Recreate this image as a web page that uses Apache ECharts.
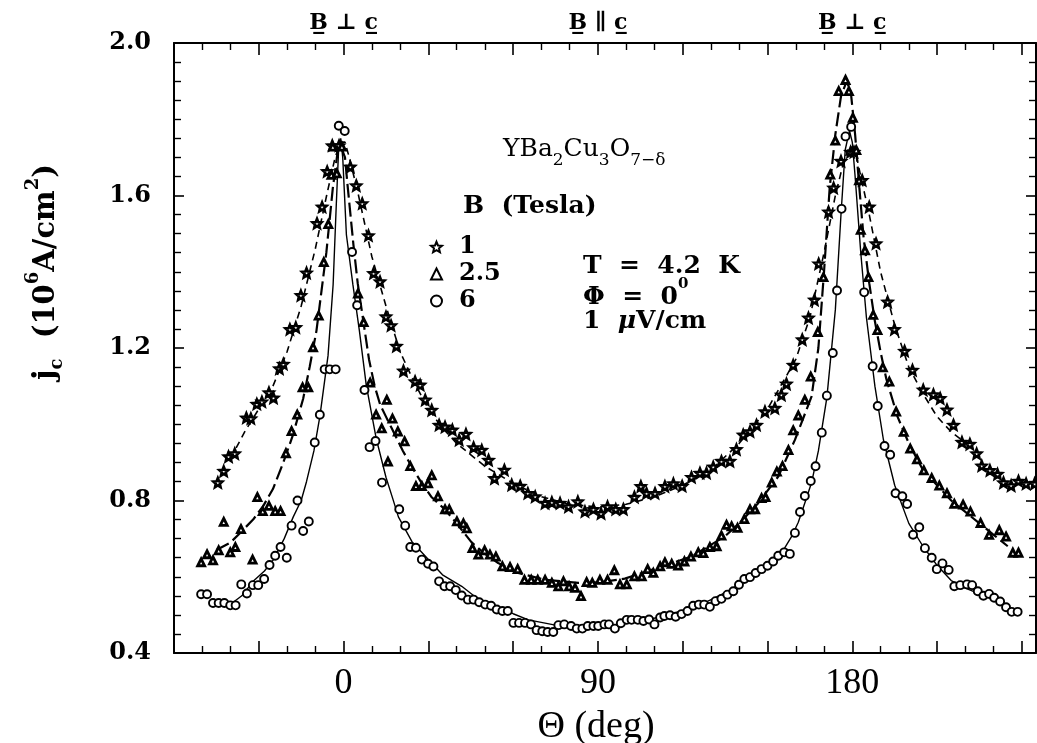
<!DOCTYPE html>
<html><head><meta charset="utf-8">
<script src="https://cdn.jsdelivr.net/npm/echarts@6/dist/echarts.min.js"></script>
<style>html,body{margin:0;padding:0;background:#fff}#c{width:1037px;height:743px}</style>
</head><body><div id="c"></div>
<script>
// ---- tick labels ----
const xTickLabels = [0, 90, 180];
const topAngles = [0, 90, 180];
const topTexts = ['B\u0332 \u22A5 c\u0332', 'B\u0332 \u2225 c\u0332', 'B\u0332 \u22A5 c\u0332'];
const yTickLabels = [0.4, 0.8, 1.2, 1.6, 2.0];
const fieldNames = ['1', '2.5', '6'];

// ---- measured points [theta (deg), jc] ----
const starPts = [[-44.5,0.847],[-42.4,0.877],[-40.7,0.915],[-38.5,0.923],[-34.4,1.017],[-32.8,1.015],[-30.7,1.053],[-28.9,1.059],[-26.4,1.083],[-24.8,1.069],[-22.7,1.146],[-21.3,1.158],[-19.0,1.249],[-16.9,1.254],[-15.1,1.338],[-13.1,1.397],[-9.4,1.527],[-7.6,1.570],[-5.8,1.663],[-4.0,1.731],[-1.6,1.731],[2.4,1.675],[4.5,1.626],[6.6,1.579],[8.8,1.495],[10.6,1.396],[12.9,1.374],[15.0,1.282],[16.8,1.259],[18.7,1.205],[21.2,1.140],[25.3,1.112],[27.1,1.103],[28.9,1.064],[31.2,1.037],[33.8,0.998],[35.9,0.993],[38.5,0.985],[40.9,0.959],[43.3,0.974],[46.0,0.939],[48.9,0.932],[51.3,0.906],[53.4,0.858],[56.9,0.880],[59.5,0.841],[62.5,0.838],[65.2,0.819],[67.8,0.810],[71.3,0.793],[73.7,0.795],[76.6,0.793],[79.6,0.784],[82.9,0.797],[85.4,0.771],[88.4,0.777],[91.1,0.766],[93.4,0.784],[96.3,0.777],[99.0,0.777],[102.9,0.809],[105.2,0.837],[107.2,0.819],[110.2,0.819],[113.7,0.837],[116.7,0.844],[119.8,0.838],[123.1,0.861],[126.1,0.872],[128.4,0.872],[130.8,0.888],[133.7,0.903],[136.7,0.903],[139.0,0.934],[141.4,0.972],[143.8,0.981],[146.1,0.998],[149.1,1.033],[152.6,1.042],[154.9,1.077],[156.7,1.106],[159.1,1.155],[162.3,1.222],[164.5,1.279],[166.6,1.326],[168.1,1.421],[171.6,1.557],[173.4,1.620],[176.0,1.690],[179.4,1.714],[180.6,1.714],[183.5,1.640],[186.0,1.570],[188.4,1.474],[192.5,1.321],[194.9,1.249],[198.5,1.192],[201.3,1.142],[205.1,1.090],[208.7,1.078],[211.1,1.068],[213.5,1.038],[215.8,0.998],[218.8,0.953],[221.6,0.948],[224.0,0.923],[225.8,0.891],[228.7,0.879],[231.4,0.869],[233.5,0.847],[236.2,0.839],[238.8,0.851],[241.5,0.844],[244.5,0.844]];

const triPts = [[-50.4,0.638],[-48.3,0.659],[-46.2,0.643],[-44.2,0.669],[-42.4,0.744],[-40.1,0.664],[-38.3,0.678],[-36.3,0.725],[-32.2,0.645],[-30.5,0.809],[-28.6,0.772],[-26.4,0.786],[-24.2,0.772],[-22.3,0.772],[-20.4,0.924],[-18.4,0.982],[-16.4,1.025],[-14.5,1.097],[-12.5,1.097],[-10.8,1.202],[-8.8,1.285],[-7.0,1.425],[-5.4,1.525],[-4.3,1.654],[-3.8,1.728],[-2.4,1.658],[-0.6,1.728],[5.1,1.343],[7.1,1.268],[9.4,1.109],[11.5,1.025],[13.5,0.989],[15.3,1.064],[15.7,0.902],[17.3,1.015],[19.2,0.981],[21.6,0.955],[23.6,0.890],[25.6,0.838],[27.7,0.838],[29.9,0.845],[31.2,0.866],[33.4,0.811],[35.9,0.777],[37.4,0.777],[40.1,0.745],[42.4,0.740],[43.6,0.727],[45.6,0.675],[47.7,0.658],[49.9,0.669],[51.8,0.658],[53.9,0.653],[56.2,0.627],[58.9,0.625],[61.6,0.620],[64.0,0.592],[66.4,0.592],[68.7,0.592],[71.3,0.592],[73.7,0.584],[76.0,0.575],[77.8,0.588],[79.8,0.575],[81.9,0.571],[84.0,0.549],[86.0,0.586],[88.0,0.584],[90.7,0.592],[93.4,0.592],[95.8,0.617],[97.8,0.580],[100.2,0.580],[102.9,0.601],[105.5,0.601],[107.6,0.620],[109.6,0.610],[112.0,0.627],[113.7,0.638],[116.1,0.634],[118.4,0.629],[120.6,0.640],[122.9,0.653],[125.5,0.664],[127.3,0.662],[129.6,0.678],[132.0,0.680],[133.7,0.708],[135.5,0.736],[137.3,0.732],[139.4,0.728],[141.8,0.751],[143.8,0.777],[145.6,0.777],[147.9,0.806],[149.3,0.809],[151.5,0.847],[153.3,0.876],[155.3,0.890],[157.4,0.932],[159.1,0.984],[160.9,1.023],[163.2,1.064],[165.3,1.125],[167.8,1.242],[169.8,1.386],[172.2,1.655],[174.0,1.744],[175.2,1.874],[177.6,1.903],[178.8,1.874],[180.2,1.804],[181.4,1.719],[182.4,1.640],[183.0,1.510],[184.5,1.456],[185.7,1.386],[187.4,1.287],[188.9,1.247],[190.8,1.149],[193.1,1.112],[195.5,1.033],[198.2,0.980],[200.5,0.936],[202.9,0.908],[205.3,0.879],[208.1,0.859],[210.8,0.839],[213.5,0.819],[216.1,0.791],[219.2,0.789],[221.8,0.771],[225.4,0.741],[228.4,0.710],[232.0,0.722],[234.4,0.705],[236.8,0.663],[238.8,0.663]];

const circPts = [[-50.4,0.554],[-48.3,0.554],[-46.2,0.531],[-44.2,0.531],[-42.2,0.531],[-40.1,0.525],[-38.2,0.525],[-36.2,0.580],[-34.2,0.556],[-32.1,0.578],[-30.2,0.578],[-28.1,0.594],[-26.2,0.631],[-24.2,0.655],[-22.3,0.678],[-20.1,0.650],[-18.4,0.734],[-16.3,0.800],[-14.3,0.720],[-12.3,0.745],[-10.2,0.952],[-8.4,1.025],[-6.7,1.144],[-4.9,1.144],[-2.8,1.144],[-1.7,1.783],[0.4,1.769],[3.0,1.452],[4.8,1.312],[7.4,1.090],[9.2,0.940],[11.3,0.956],[13.6,0.847],[19.7,0.777],[21.8,0.734],[23.6,0.678],[25.6,0.676],[27.7,0.645],[29.9,0.634],[31.8,0.627],[33.8,0.588],[35.7,0.575],[37.7,0.575],[39.7,0.565],[41.8,0.551],[44.0,0.540],[46.0,0.540],[48.0,0.533],[50.1,0.527],[52.2,0.524],[54.2,0.514],[56.2,0.510],[58.1,0.510],[60.1,0.479],[62.1,0.479],[64.2,0.479],[66.3,0.475],[68.3,0.460],[70.3,0.457],[72.2,0.455],[74.2,0.455],[76.0,0.473],[78.1,0.475],[80.5,0.471],[82.5,0.464],[84.5,0.464],[86.4,0.471],[88.4,0.471],[90.1,0.471],[92.3,0.475],[93.9,0.475],[96.0,0.464],[98.1,0.478],[100.2,0.487],[101.9,0.487],[104.1,0.487],[106.1,0.484],[108.1,0.488],[110.0,0.475],[112.0,0.493],[113.5,0.497],[115.5,0.499],[117.5,0.495],[119.6,0.502],[121.7,0.510],[123.7,0.524],[125.7,0.527],[127.6,0.527],[129.6,0.521],[131.6,0.536],[133.7,0.542],[135.8,0.553],[137.9,0.562],[139.9,0.579],[141.8,0.594],[143.8,0.599],[145.8,0.610],[147.9,0.620],[150.0,0.629],[152.0,0.640],[153.8,0.655],[155.9,0.664],[157.9,0.660],[159.7,0.715],[161.5,0.770],[163.2,0.812],[165.3,0.851],[167.0,0.890],[169.2,0.978],[171.0,1.075],[173.1,1.187],[174.6,1.351],[176.2,1.565],[177.6,1.755],[179.6,1.780],[184.2,1.346],[187.2,1.152],[189.0,1.048],[191.4,0.943],[193.4,0.920],[195.3,0.819],[197.7,0.811],[199.4,0.791],[201.5,0.710],[203.7,0.730],[205.7,0.675],[208.1,0.650],[209.9,0.620],[211.9,0.635],[214.1,0.618],[216.1,0.575],[218.2,0.578],[220.6,0.580],[222.4,0.578],[224.4,0.562],[226.4,0.550],[228.4,0.555],[230.2,0.545],[232.3,0.535],[234.4,0.520],[236.4,0.508],[238.5,0.508]];

// ---- fitted curves ----
const starCurve = [[-40,0.91],[-35,0.98],[-30,1.04],[-25,1.10],[-20,1.19],[-15,1.31],[-10,1.46],[-6,1.60],[-3,1.70],[-1,1.74],[0.5,1.74],[2,1.70],[5,1.61],[10,1.44],[15,1.31],[20,1.19],[25,1.11],[30,1.04],[35,0.99],[40,0.95],[50,0.89],[60,0.845],[70,0.81],[80,0.79],[90,0.783],[100,0.79],[110,0.81],[120,0.84],[130,0.88],[140,0.95],[150,1.04],[160,1.17],[165,1.28],[170,1.45],[174,1.60],[177,1.69],[179,1.73],[181,1.72],[183,1.65],[186,1.55],[190,1.40],[195,1.26],[200,1.15],[205,1.08],[210,1.02],[215,0.98],[222,0.94]];

const triCurve = [[-45,0.67],[-40,0.69],[-36.6,0.715],[-32,0.75],[-28.4,0.786],[-25,0.83],[-21.3,0.90],[-18,0.97],[-14.3,1.067],[-12,1.15],[-9.6,1.245],[-6.1,1.45],[-3.8,1.62],[-2,1.72],[-1,1.73],[0.5,1.70],[1.5,1.62],[3.5,1.47],[5,1.37],[7,1.27],[9,1.17],[11,1.10],[13,1.05],[15,1.02],[17,0.99],[21,0.93],[24,0.89],[27.7,0.845],[31,0.81],[35.9,0.776],[40,0.74],[45.3,0.69],[50,0.66],[54.7,0.636],[61.8,0.61],[71.3,0.592],[83,0.584],[90,0.585],[99.5,0.595],[111.4,0.624],[123.1,0.653],[134.9,0.706],[140,0.74],[146.7,0.793],[153.8,0.863],[159.7,0.959],[165.6,1.073],[168,1.20],[170,1.40],[172,1.62],[174,1.76],[176,1.86],[178,1.90],[179.5,1.87],[181,1.76],[182.5,1.62],[184,1.49],[186,1.37],[188,1.27],[190,1.19],[192,1.12],[196,1.02],[200,0.95],[205,0.88],[210,0.84],[215,0.80],[220,0.77],[225,0.74],[230,0.71],[235,0.68]];

const circCurve = [[-40,0.528],[-36,0.55],[-31.9,0.589],[-28,0.615],[-24.8,0.645],[-21,0.70],[-17.8,0.757],[-15,0.80],[-13.1,0.85],[-10.5,0.93],[-8.4,1.02],[-5.5,1.18],[-3.7,1.366],[-2.6,1.572],[-1.8,1.713],[-1,1.75],[-0.3,1.70],[1.0,1.497],[3.3,1.366],[5.6,1.245],[8.0,1.104],[11.5,0.964],[15,0.861],[17.4,0.805],[19.4,0.757],[24.2,0.692],[30,0.645],[35,0.605],[41.8,0.575],[47,0.545],[53.6,0.524],[60,0.503],[65.4,0.487],[77.2,0.47],[90,0.468],[101.9,0.479],[113.7,0.497],[125.5,0.524],[131,0.543],[137.3,0.567],[143,0.597],[149.1,0.628],[153,0.655],[156.2,0.677],[158.5,0.705],[160.9,0.743],[163.5,0.80],[165.6,0.847],[168,0.93],[171,1.07],[174,1.30],[176,1.55],[177.5,1.72],[179,1.77],[180,1.74],[181,1.65],[183,1.45],[185,1.28],[188,1.10],[191,0.96],[195,0.84],[200,0.74],[205,0.68],[210,0.63],[215,0.59],[220,0.57],[225,0.555],[230,0.54],[235,0.52],[238,0.51]];

const starPath = 'path://M0,-100 L26,-36 L95,-31 L43,14 L59,81 L0,45 L-59,81 L-43,14 L-95,-31 L-26,-36 Z';
const SERIF = '"DejaVu Serif", "Liberation Serif", serif';
const TIMES = '"Liberation Serif", "DejaVu Serif", serif';

const chart = echarts.init(document.getElementById('c'), null, {renderer: 'canvas'});

function xAxisBase(pos) {
  return {
    type: 'value', position: pos, min: -60, max: 245, interval: 30,
    axisLine: {show: true, onZero: false, lineStyle: {color: '#000', width: 2}},
    axisTick: {show: true, inside: true, length: 12, lineStyle: {color: '#000', width: 1.6}},
    minorTick: {show: true, splitNumber: 3, length: 7, lineStyle: {color: '#000', width: 1.4}},
    splitLine: {show: false}, minorSplitLine: {show: false}
  };
}
function yAxisBase(pos) {
  return {
    type: 'value', position: pos, min: 0.4, max: 2.0, interval: 0.4,
    axisLine: {show: true, onZero: false, lineStyle: {color: '#000', width: 2}},
    axisTick: {show: true, inside: true, length: 10, lineStyle: {color: '#000', width: 1.6}},
    minorTick: {show: true, splitNumber: 8, length: 7, lineStyle: {color: '#000', width: 1.4}},
    splitLine: {show: false}, minorSplitLine: {show: false}
  };
}

const xBottom = xAxisBase('bottom');
xBottom.axisLabel = {
  show: true, margin: 13, color: '#000', fontFamily: TIMES, fontSize: 36,
  showMinLabel: true, showMaxLabel: false,
  formatter: v => xTickLabels.indexOf(v) >= 0 ? String(v) : ''
};
const xTop = xAxisBase('top');
xTop.axisLabel = {
  show: true, margin: 9, color: '#000', fontFamily: SERIF, fontSize: 22, fontWeight: 'bold',
  showMaxLabel: false,
  formatter: v => { const i = topAngles.indexOf(v); return i >= 0 ? topTexts[i] : ''; }
};
const yLeft = yAxisBase('left');
yLeft.axisLabel = {
  show: true, margin: 23, color: '#000', fontFamily: SERIF, fontSize: 24, fontWeight: 'bold',
  formatter: v => { const t = yTickLabels.find(x => Math.abs(x - v) < 1e-6); return t !== undefined ? t.toFixed(1) : ''; }
};
const yRight = yAxisBase('right');
yRight.axisLabel = {show: false};

function curve(data, width, type) {
  return {type: 'line', data: data, xAxisIndex: 0, yAxisIndex: 0, showSymbol: false, symbol: 'none',
    smooth: false, silent: true, z: 2,
    lineStyle: {color: '#000', width: width, type: type}};
}

const option = {
  animation: false,
  backgroundColor: '#fff',
  grid: {left: 174, right: 1, top: 43, bottom: 90, containLabel: false, outerBoundsMode: 'none'},
  xAxis: [xBottom, xTop],
  yAxis: [yLeft, yRight],
  legend: {
    orient: 'vertical', left: 425, top: 230, itemGap: 3, itemWidth: 11, itemHeight: 11,
    selectedMode: false, data: fieldNames,
    textStyle: {fontFamily: SERIF, fontSize: 24, fontWeight: 'bold', color: '#000', padding: [0, 0, 0, 12], lineHeight: 24}
  },
  graphic: [
    {type: 'text', left: 503, top: 137, silent: true, style: {
      text: '{n|YBa}{s|2}{n|Cu}{s|3}{n|O}{s|7\u2212\u03B4}',
      rich: {
        n: {fontFamily: SERIF, fontSize: 25, lineHeight: 30, verticalAlign: 'top', fill: '#000'},
        s: {fontFamily: SERIF, fontSize: 17, lineHeight: 20, verticalAlign: 'top', padding: [15, 0, 0, 0], fill: '#000'}
      }}},
    {type: 'text', left: 463, top: 194, silent: true, style: {
      text: 'B  (Tesla)', fontFamily: SERIF, fontSize: 25, fontWeight: 'bold', fill: '#000'}},
    {type: 'text', left: 583, top: 254, silent: true, style: {
      text: 'T  =  4.2  K', fontFamily: SERIF, fontSize: 25, fontWeight: 'bold', fill: '#000'}},
    {type: 'text', left: 583, top: 277, silent: true, style: {
      text: '{n|\u03A6  =  0}{p|0}',
      rich: {
        n: {fontFamily: SERIF, fontSize: 25, fontWeight: 'bold', lineHeight: 26, verticalAlign: 'top', padding: [8, 0, 0, 0], fill: '#000'},
        p: {fontFamily: SERIF, fontSize: 15, fontWeight: 'bold', lineHeight: 18, verticalAlign: 'top', fill: '#000'}
      }}},
    {type: 'text', left: 583, top: 309, silent: true, style: {
      text: '{n|1  }{i|\u03BC}{n|V/cm}',
      rich: {
        n: {fontFamily: SERIF, fontSize: 25, fontWeight: 'bold', fill: '#000'},
        i: {fontFamily: SERIF, fontSize: 25, fontWeight: 'bold', fontStyle: 'italic', fill: '#000'}
      }}},
    {type: 'text', x: 40, y: 272, rotation: Math.PI / 2, silent: true, style: {
      text: '{n|j}{s|c}{n|  (10}{p|6}{n|A/cm}{p|2}{n|)}',
      align: 'center', verticalAlign: 'middle',
      rich: {
        n: {fontFamily: SERIF, fontSize: 29, fontWeight: 'bold', lineHeight: 32, verticalAlign: 'top', padding: [8, 0, 0, 0], fill: '#000'},
        s: {fontFamily: SERIF, fontSize: 18, fontWeight: 'bold', lineHeight: 20, verticalAlign: 'top', padding: [24, 0, 0, 0], fill: '#000'},
        p: {fontFamily: SERIF, fontSize: 18, fontWeight: 'bold', lineHeight: 20, verticalAlign: 'top', fill: '#000'}
      }}},
    {type: 'text', x: 596, y: 727, silent: true, style: {
      text: '\u0398 (deg)', fontFamily: TIMES, fontSize: 38, fill: '#000', align: 'center', verticalAlign: 'middle'}}
  ],
  series: [
    curve(starCurve, 1.6, [7, 5]),
    curve(triCurve, 2.2, [14, 5]),
    curve(circCurve, 1.4, 'solid'),
    {name: fieldNames[0], type: 'scatter', data: starPts, symbol: starPath, symbolSize: 9, z: 3,
      itemStyle: {color: '#fff', borderColor: '#000', borderWidth: 2.6, opacity: 1}},
    {name: fieldNames[1], type: 'scatter', data: triPts, symbol: 'triangle', symbolSize: 7, z: 3,
      itemStyle: {color: '#fff', borderColor: '#000', borderWidth: 2.8, opacity: 1}},
    {name: fieldNames[2], type: 'scatter', data: circPts, symbol: 'circle', symbolSize: 8, z: 3,
      itemStyle: {color: '#fff', borderColor: '#000', borderWidth: 1.9, opacity: 1}}
  ]
};
chart.setOption(option);
</script>
</body></html>
